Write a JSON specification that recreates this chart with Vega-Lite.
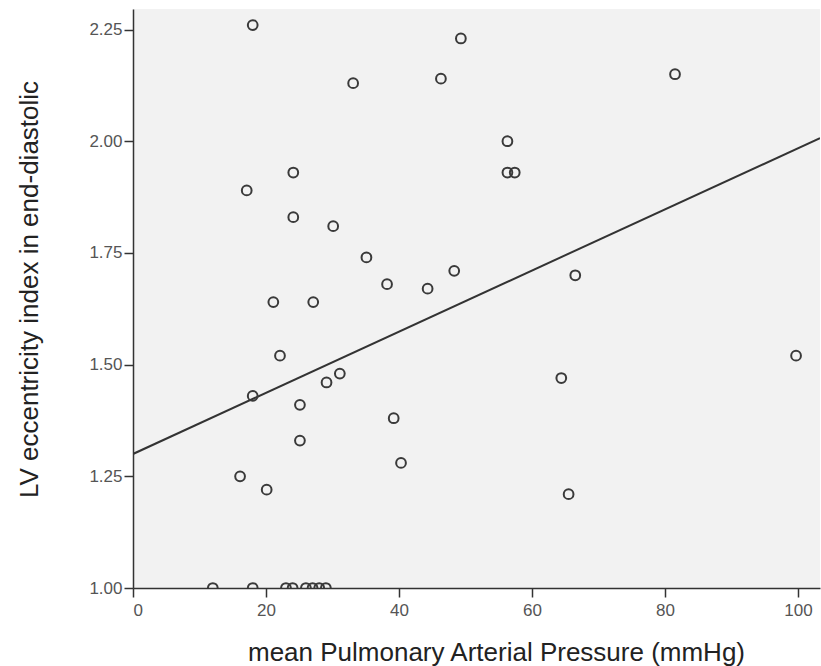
{
  "$schema": "https://vega.github.io/schema/vega-lite/v6.json",
  "width": 687,
  "height": 579,
  "autosize": {"type": "none"},
  "padding": {"left": 133, "top": 9, "right": 1, "bottom": 78},
  "background": "white",
  "config": {
    "view": {"fill": "#f2f2f2", "stroke": null},
    "font": "Liberation Sans",
    "axis": {
      "grid": false,
      "domainColor": "#333333",
      "domainWidth": 1.5,
      "tickColor": "#333333",
      "tickWidth": 1.5,
      "tickSize": 9,
      "labelFont": "Liberation Sans",
      "labelFontSize": 17,
      "labelColor": "#555555",
      "titleFont": "Liberation Sans",
      "titleFontSize": 26,
      "titleFontWeight": "normal",
      "titleColor": "#222222"
    }
  },
  "datasets": {
    "pts": [
      {"mPAP": 18, "EI": 2.26},
      {"mPAP": 49.3, "EI": 2.23},
      {"mPAP": 33.1, "EI": 2.13},
      {"mPAP": 46.3, "EI": 2.14},
      {"mPAP": 81.5, "EI": 2.15},
      {"mPAP": 56.3, "EI": 2.0},
      {"mPAP": 56.3, "EI": 1.93},
      {"mPAP": 57.4, "EI": 1.93},
      {"mPAP": 17.1, "EI": 1.89},
      {"mPAP": 24.1, "EI": 1.93},
      {"mPAP": 24.1, "EI": 1.83},
      {"mPAP": 30.1, "EI": 1.81},
      {"mPAP": 35.1, "EI": 1.74},
      {"mPAP": 48.3, "EI": 1.71},
      {"mPAP": 38.2, "EI": 1.68},
      {"mPAP": 44.3, "EI": 1.67},
      {"mPAP": 66.5, "EI": 1.7},
      {"mPAP": 21.1, "EI": 1.64},
      {"mPAP": 27.1, "EI": 1.64},
      {"mPAP": 22.1, "EI": 1.52},
      {"mPAP": 99.7, "EI": 1.52},
      {"mPAP": 18, "EI": 1.43},
      {"mPAP": 31.1, "EI": 1.48},
      {"mPAP": 29.1, "EI": 1.46},
      {"mPAP": 25.1, "EI": 1.41},
      {"mPAP": 64.4, "EI": 1.47},
      {"mPAP": 39.2, "EI": 1.38},
      {"mPAP": 25.1, "EI": 1.33},
      {"mPAP": 40.3, "EI": 1.28},
      {"mPAP": 16.1, "EI": 1.25},
      {"mPAP": 20.1, "EI": 1.22},
      {"mPAP": 65.5, "EI": 1.21},
      {"mPAP": 12, "EI": 1.0},
      {"mPAP": 18, "EI": 1.0},
      {"mPAP": 23, "EI": 1.0},
      {"mPAP": 24, "EI": 1.0},
      {"mPAP": 26, "EI": 1.0},
      {"mPAP": 27, "EI": 1.0},
      {"mPAP": 28, "EI": 1.0},
      {"mPAP": 29, "EI": 1.0}
    ],
    "fit": [
      {"mPAP": 0, "EI": 1.30},
      {"mPAP": 103.3, "EI": 2.007}
    ]
  },
  "layer": [
    {
      "data": {"name": "fit"},
      "mark": {"type": "line", "color": "#333333", "strokeWidth": 2, "clip": true},
      "encoding": {
        "x": {"field": "mPAP", "type": "quantitative"},
        "y": {"field": "EI", "type": "quantitative"}
      }
    },
    {
      "data": {"name": "pts"},
      "mark": {"type": "point", "shape": "circle", "filled": false, "stroke": "#3a3a3a", "strokeWidth": 2, "size": 95, "opacity": 1, "clip": true},
      "encoding": {
        "x": {
          "field": "mPAP", "type": "quantitative",
          "scale": {"domain": [0, 103.3], "nice": false, "zero": false},
          "axis": {
            "values": [0, 20, 40, 60, 80, 100],
            "title": "mean Pulmonary Arterial Pressure (mmHg)",
            "labelPadding": 5,
            "titleX": 363,
            "titleY": 72,
            "titleAlign": "center",
            "titleBaseline": "alphabetic"
          }
        },
        "y": {
          "field": "EI", "type": "quantitative",
          "scale": {"domain": [1.0, 2.296], "nice": false, "zero": false},
          "axis": {
            "values": [1.0, 1.25, 1.5, 1.75, 2.0, 2.25],
            "format": ".2f",
            "title": "LV eccentricity index in end-diastolic",
            "labelPadding": 2,
            "titleX": -104,
            "titleY": 280,
            "titleAngle": -90,
            "titleAlign": "center",
            "titleBaseline": "middle"
          }
        }
      }
    }
  ]
}
